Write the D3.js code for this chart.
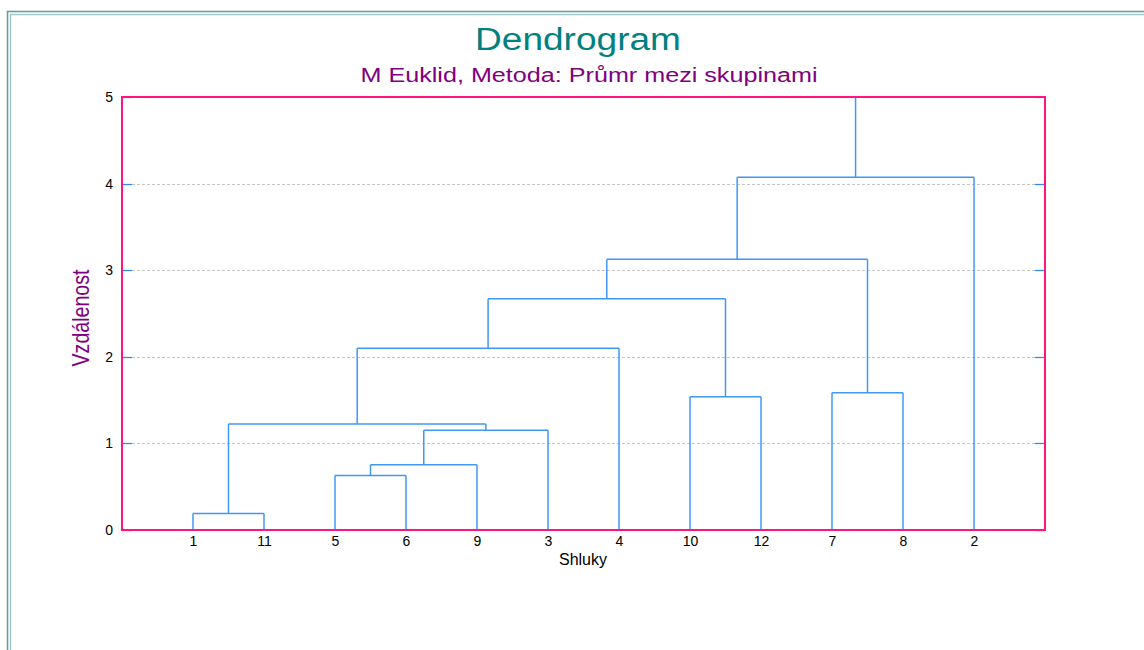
<!DOCTYPE html>
<html>
<head>
<meta charset="utf-8">
<script src="https://cdn.jsdelivr.net/npm/d3@7"></script>
<style>
  body { margin: 0; background: #fff; }
  svg text { font-family: "Liberation Sans", Arial, sans-serif; }
</style>
</head>
<body>
<div id="chart"></div>
<script>
// leaves in the order they appear on the x axis
const leafLabels = ['1', '11', '5', '6', '9', '3', '4', '10', '12', '7', '8', '2'];

// merges: ids 0..11 are leaves, each merge gets the next id (12, 13, ...)
const mergeLeft = [0, 2, 13, 14, 12, 7, 9, 16, 19, 20, 21];
const mergeRight = [1, 3, 4, 5, 15, 8, 10, 6, 17, 18, 11];
const mergeHeight = [0.19, 0.63, 0.754, 1.151, 1.224, 1.539, 1.586, 2.10, 2.671, 3.126, 4.073];

const yTicks = [0, 1, 2, 3, 4, 5];

const width = 1144;
const height = 650;
const plot = { left: 122, right: 1045, top: 97, bottom: 530 };

const svg = d3.select('#chart')
  .append('svg')
  .attr('width', width)
  .attr('height', height);

// outer double frame
svg.append('rect')
  .attr('x', 7.5).attr('y', 11.5)
  .attr('width', width + 20).attr('height', height + 20)
  .attr('fill', 'none')
  .attr('stroke', '#6e9c9c')
  .attr('stroke-width', 1.6);
svg.append('rect')
  .attr('x', 10.5).attr('y', 14.5)
  .attr('width', width + 20).attr('height', height + 20)
  .attr('fill', 'none')
  .attr('stroke', '#9cc6c6')
  .attr('stroke-width', 1.4);

const xScale = d3.scaleLinear()
  .domain([0, leafLabels.length + 1])
  .range([plot.left, plot.right]);

const yScale = d3.scaleLinear()
  .domain([0, 5])
  .range([plot.bottom, plot.top]);

// gridlines
svg.append('g')
  .selectAll('line')
  .data(yTicks.filter(t => t > 0 && t < 5))
  .enter()
  .append('line')
  .attr('x1', plot.left + 10)
  .attr('x2', plot.right - 10)
  .attr('y1', d => Math.round(yScale(d)) + 0.5)
  .attr('y2', d => Math.round(yScale(d)) + 0.5)
  .attr('stroke', '#c4c4c4')
  .attr('stroke-dasharray', '3,2');

// tick marks inside, both sides
const tickG = svg.append('g');
[plot.left, plot.right].forEach((x0, side) => {
  tickG.selectAll('.t' + side)
    .data(yTicks)
    .enter()
    .append('line')
    .attr('x1', x0)
    .attr('x2', side === 0 ? x0 + 10 : x0 - 10)
    .attr('y1', d => Math.round(yScale(d)) + 0.5)
    .attr('y2', d => Math.round(yScale(d)) + 0.5)
    .attr('stroke', '#2f8cf0')
    .attr('stroke-width', 1.3);
});

// y axis labels
const yAxis = d3.axisLeft(yScale)
  .tickValues(yTicks)
  .tickSize(0)
  .tickPadding(9)
  .tickFormat(d3.format('d'));

svg.append('g')
  .attr('transform', `translate(${plot.left},0)`)
  .call(yAxis)
  .call(g => g.select('.domain').remove())
  .selectAll('text')
  .attr('font-size', 14)
  .attr('font-family', '"Liberation Sans", Arial, sans-serif')
  .attr('fill', '#000');

// x axis labels
const xAxis = d3.axisBottom(xScale)
  .tickValues(leafLabels.map((d, i) => i + 1))
  .tickSize(0)
  .tickPadding(6)
  .tickFormat(i => leafLabels[i - 1]);

svg.append('g')
  .attr('transform', `translate(0,${plot.bottom})`)
  .call(xAxis)
  .call(g => g.select('.domain').remove())
  .selectAll('text')
  .attr('font-size', 14)
  .attr('font-family', '"Liberation Sans", Arial, sans-serif')
  .attr('fill', '#000');

// build dendrogram links
const nodeX = leafLabels.map((d, i) => xScale(i + 1));
const nodeH = leafLabels.map(() => 0);
const segments = [];
mergeLeft.forEach((a, i) => {
  const b = mergeRight[i];
  const h = mergeHeight[i];
  segments.push([nodeX[a], nodeH[a], nodeX[a], h]);
  segments.push([nodeX[b], nodeH[b], nodeX[b], h]);
  segments.push([nodeX[a], h, nodeX[b], h]);
  nodeX.push((nodeX[a] + nodeX[b]) / 2);
  nodeH.push(h);
});
// root stem to top
const root = nodeX.length - 1;
segments.push([nodeX[root], nodeH[root], nodeX[root], 5]);

svg.append('g')
  .selectAll('line')
  .data(segments)
  .enter()
  .append('line')
  .attr('x1', d => d[0])
  .attr('y1', d => yScale(d[1]))
  .attr('x2', d => d[2])
  .attr('y2', d => yScale(d[3]))
  .attr('stroke', '#3f98f8')
  .attr('stroke-width', 1.5);

// plot frame
svg.append('rect')
  .attr('x', plot.left)
  .attr('y', plot.top)
  .attr('width', plot.right - plot.left)
  .attr('height', plot.bottom - plot.top)
  .attr('fill', 'none')
  .attr('stroke', '#ff1480')
  .attr('stroke-width', 2);

// titles
svg.append('text')
  .attr('x', 578)
  .attr('y', 50)
  .attr('text-anchor', 'middle')
  .attr('font-size', 31)
  .attr('fill', '#008080')
  .attr('textLength', 206)
  .attr('lengthAdjust', 'spacingAndGlyphs')
  .text('Dendrogram');

svg.append('text')
  .attr('x', 589)
  .attr('y', 82)
  .attr('text-anchor', 'middle')
  .attr('font-size', 20)
  .attr('fill', '#800080')
  .attr('textLength', 457)
  .attr('lengthAdjust', 'spacingAndGlyphs')
  .text('M Euklid,  Metoda:  Průmr mezi skupinami');

svg.append('text')
  .attr('x', 583)
  .attr('y', 565)
  .attr('text-anchor', 'middle')
  .attr('font-size', 16)
  .attr('fill', '#000')
  .text('Shluky');

svg.append('text')
  .attr('transform', 'translate(89,318) rotate(-90)')
  .attr('text-anchor', 'middle')
  .attr('font-size', 24)
  .attr('fill', '#800080')
  .attr('textLength', 97)
  .attr('lengthAdjust', 'spacingAndGlyphs')
  .text('Vzdálenost');
</script>
</body>
</html>
